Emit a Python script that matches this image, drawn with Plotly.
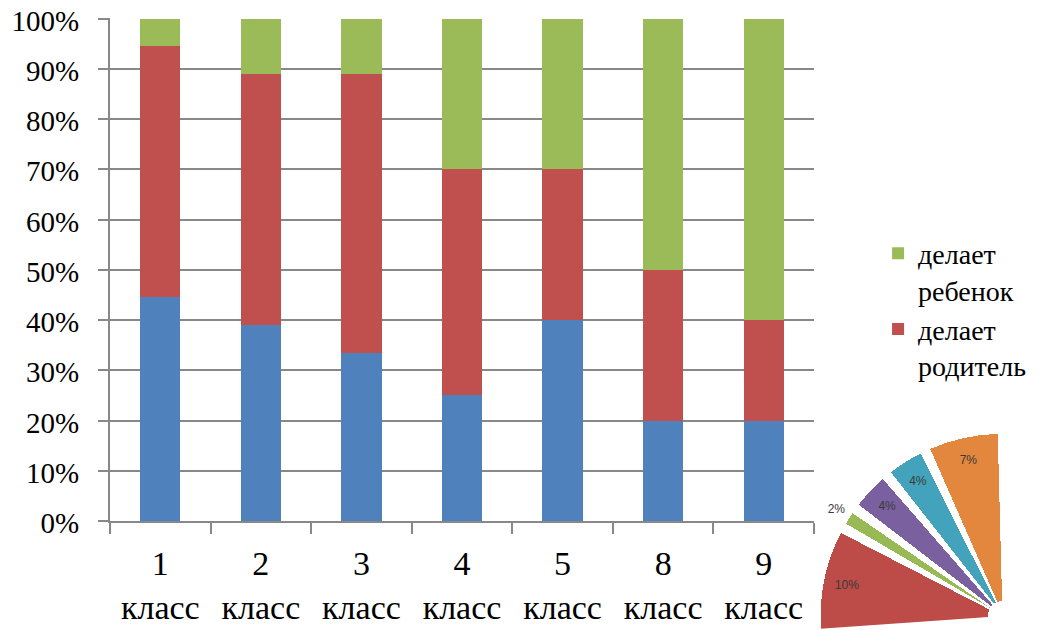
import plotly.graph_objects as go

# ---- main chart data ----
classes = ["1", "2", "3", "4", "5", "8", "9"]
tick_labels = [f"{c}<br>класс" for c in classes]
together = [44.5, 39.0, 33.4, 25.0, 40.0, 20.0, 20.0]      # blue
parent = [50.0, 50.0, 55.6, 45.0, 30.0, 30.0, 20.0]        # red
child = [5.5, 11.0, 11.0, 30.0, 30.0, 50.0, 60.0]          # green
y_ticks = list(range(0, 101, 10))
y_tick_labels = [f"{v}%" for v in y_ticks]

# ---- pie fragment data ----
pie_labels = ["7%", "4%", "4%", "2%", "10%"]
pie_values = [7, 4, 4, 2, 10]
pie_colors = ["#E2873D", "#44A3BC", "#7B60A0", "#98BA55", "#BD4B48"]
pie_label_r = [0.87, 0.87, 0.87, 1.08, 0.87]

BLUE, RED, GREEN = "#4F81BD", "#C0504D", "#9BBB59"
GRID = "#888888"
SERIF = "Liberation Serif"

fig = go.Figure()
fig.add_trace(go.Bar(x=classes, y=together, name="делают вместе",
                     marker=dict(color=BLUE, line=dict(width=0)), showlegend=False))
fig.add_trace(go.Bar(x=classes, y=parent, name="делает<br>родитель",
                     marker=dict(color=RED, line=dict(width=0))))
fig.add_trace(go.Bar(x=classes, y=child, name="делает<br>ребенок",
                     marker=dict(color=GREEN, line=dict(width=0))))

# pie fragment as bar-polar wedges
theta, width = [], []
acc = 0.0
for v in pie_values:
    theta.append(90 + (acc + v / 2) * 3.6)
    width.append(v * 3.6 - 3.0)
    acc += v
fig.add_trace(go.Barpolar(theta=theta, width=width, r=[0.92] * len(pie_values),
                          base=[0.08] * len(pie_values),
                          marker=dict(color=pie_colors, line=dict(color="white", width=1)),
                          showlegend=False, subplot="polar"))
fig.add_trace(go.Scatterpolar(theta=theta, r=pie_label_r, text=pie_labels, mode="text",
                              textfont=dict(family="Arial", size=12, color="#3a3a3a"),
                              cliponaxis=False, showlegend=False, subplot="polar"))

fig.update_layout(
    template="none",
    width=1042, height=630,
    margin=dict(l=0, r=0, t=0, b=0),
    paper_bgcolor="white", plot_bgcolor="white",
    barmode="stack", bargap=0.6,
    font=dict(family=SERIF, color="black"),
    xaxis=dict(domain=[102 / 1042, 806 / 1042], type="category", automargin=False,
               tickmode="array", tickvals=classes, ticktext=tick_labels,
               tickfont=dict(family=SERIF, size=34, color="black"),
               showline=True, linecolor=GRID, linewidth=2,
               ticks="outside", tickson="boundaries", ticklen=11, tickwidth=2, tickcolor=GRID,
               ticklabelstandoff=11, ticklabeloverflow="allow",
               showgrid=False, zeroline=False),
    yaxis=dict(domain=[117 / 630, 620 / 630], range=[0, 100.1], automargin=False,
               tickmode="array", tickvals=y_ticks, ticktext=y_tick_labels,
               tickfont=dict(family=SERIF, size=29, color="black"),
               showline=True, linecolor=GRID, linewidth=2,
               ticks="outside", ticklen=10, tickwidth=2, tickcolor=GRID,
               ticklabelstandoff=13, ticklabelshift=2, ticklabeloverflow="allow",
               showgrid=True, gridcolor=GRID, gridwidth=2, zeroline=False),
    legend=dict(x=0.835, y=0.65, xanchor="left", yanchor="top",
                traceorder="reversed", valign="top",
                font=dict(family=SERIF, size=28, color="black"),
                bgcolor="rgba(0,0,0,0)", tracegroupgap=0),
    polar=dict(domain=dict(x=[794 / 1042, 995 / 1042], y=[8 / 630, 223 / 630]),
               sector=[90, 184], bgcolor="rgba(0,0,0,0)",
               radialaxis=dict(visible=False, range=[0, 1.1]),
               angularaxis=dict(visible=False)),
)

fig.write_html("out.html")
